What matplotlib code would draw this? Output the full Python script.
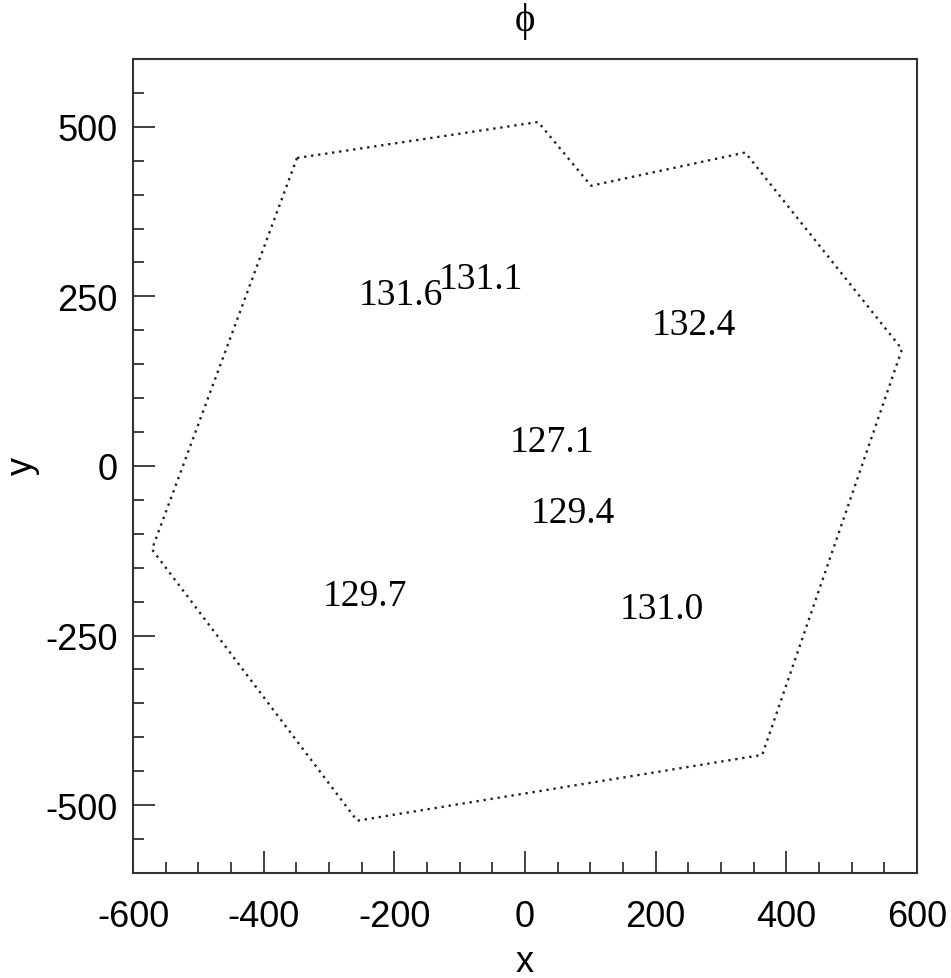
import matplotlib
matplotlib.use("Agg")
import matplotlib.pyplot as plt
from matplotlib.ticker import MultipleLocator

plt.rcParams["axes.unicode_minus"] = False

# Polygon outline (x, y)
poly_x = [-349, 20, 101, 337, 577, 363, -257, -571, -349]
poly_y = [454, 507, 413, 462, 172, -426, -523, -123, 454]

# Labels
label_x = [-190, -67, 259, 42, 74, -245, 210]
label_y = [253, 276, 208, 35, -69, -192, -211]
label_vals = ["131.6", "131.1", "132.4", "127.1", "129.4", "129.7", "131.0"]

fig = plt.figure(figsize=(9.51, 9.79), dpi=100)
ax = fig.add_axes([0.1399, 0.1073, 0.8244, 0.8315])

ax.plot(poly_x, poly_y, linestyle=(0, (1, 2)), lw=1.7, color="#222222")

for x, y, s in zip(label_x, label_y, label_vals):
    ax.text(x, y, s, ha="center", va="center", fontsize=27,
            family="Liberation Serif", color="black")

ax.set_xlim(-600, 600)
ax.set_ylim(-600, 600)
ax.xaxis.set_major_locator(MultipleLocator(200))
ax.xaxis.set_minor_locator(MultipleLocator(50))
ax.yaxis.set_major_locator(MultipleLocator(250))
ax.yaxis.set_minor_locator(MultipleLocator(50))
ax.tick_params(which="both", direction="in", top=False, right=False,
               color="#333333", width=1.3)
ax.tick_params(which="major", length=16, labelsize=26)
ax.tick_params(which="minor", length=8)
ax.tick_params(axis="x", which="major", pad=19)
ax.tick_params(axis="y", which="major", pad=11)
for lab in ax.get_xticklabels() + ax.get_yticklabels():
    lab.set_family("Liberation Sans")
for sp in ax.spines.values():
    sp.set_color("#333333")
    sp.set_linewidth(1.5)

fig.text(525/951, 1 - 22/979, "ϕ", ha="center", va="center", fontsize=28,
         family="Liberation Serif")
fig.text(525/951, 1 - 972/979, "x", ha="center", va="baseline", fontsize=26,
         family="Liberation Sans")
fig.text(22/951, 1 - 466/979, "y", ha="center", va="center", fontsize=26,
         family="Liberation Sans", rotation=90)

fig.savefig("out.png", dpi=100)
